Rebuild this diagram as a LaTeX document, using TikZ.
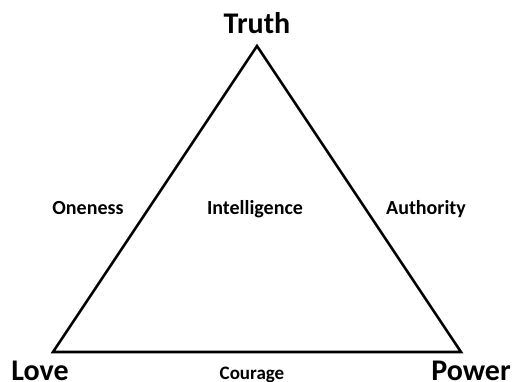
\documentclass[tikz,border=0pt]{standalone}
\usepackage{fontspec}
\setmainfont{Carlito}
\tikzset{
  side/.style={draw=black, line width=2.6pt, line join=miter},
  corner/.style={font=\bfseries\fontsize{30}{36}\selectfont, inner sep=0pt, anchor=base},
  quality/.style={font=\bfseries\fontsize{20}{24}\selectfont, inner sep=0pt, anchor=base},
}
\begin{document}
\begin{tikzpicture}[x=1pt,y=-1pt]
  \useasboundingbox (0,0) rectangle (514,381);

  % corners of the triangle
  \coordinate (top) at (257,46);
  \coordinate (left) at (53,352);
  \coordinate (right) at (461,352);
  \draw[side] (top) -- (right) -- (left) -- cycle;

  % corner words
  \node[corner] (truth) at (257,33) {Truth};
  \node[corner] (love) at (40,380) {Love};
  \node[corner] (power) at (471,380) {Power};

  % words along the sides and in the middle
  \node[quality] (oneness) at (88,214) {Oneness};
  \node[quality] (intel) at (255,214) {Intelligence};
  \node[quality] (auth) at (426,214) {Authority};
  \node[quality, font=\bfseries\fontsize{19}{23}\selectfont] (courage) at (252,379) {Courage};
\end{tikzpicture}
\end{document}
